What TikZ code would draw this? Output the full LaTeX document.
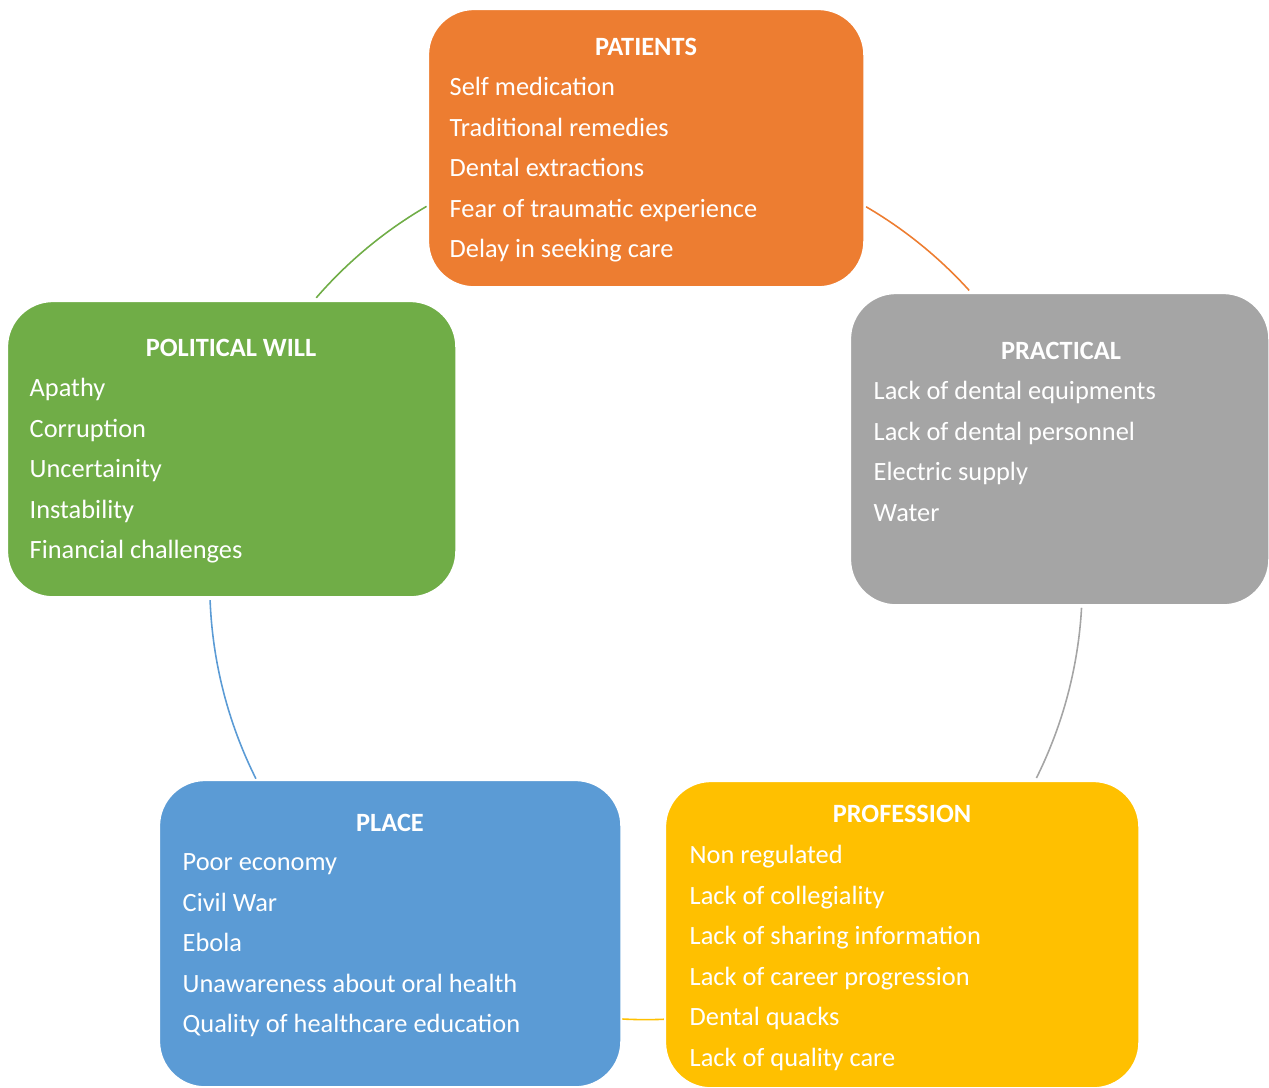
\documentclass[tikz,border=0pt]{standalone}
\usepackage{fontspec}
\setmainfont{Carlito}
\usepackage{tikz}
\usetikzlibrary{calc}
\definecolor{patcol}{HTML}{ED7D31}
\definecolor{polcol}{HTML}{70AD47}
\definecolor{pracol}{HTML}{A5A5A5}
\definecolor{placol}{HTML}{5B9BD5}
\definecolor{procol}{HTML}{FFC000}
\tikzset{
  box/.style={draw=white, line width=0.6pt, rounded corners=4.6mm, anchor=north west, inner sep=0pt},
  head/.style={text=white, anchor=base, inner sep=0pt, font=\fontsize{7.5}{9}\selectfont\bfseries},
  item/.style={text=white, anchor=base west, inner sep=0pt, font=\fontsize{7.5}{9}\selectfont},
  ring/.style={line width=0.45pt},
}

\begin{document}
\begin{tikzpicture}[x=0.01cm, y=-0.01cm]
\useasboundingbox (0,0) rectangle (1269,1087);
\coordinate (ctr) at (646,583.4);
%\draw [red] (ctr) circle (4.36cm);
\coordinate (a1) at ($(ctr)+(139.1:4.36cm)$);
\coordinate (a2) at ($(ctr)+(59.7:4.36cm)$);
\coordinate (a3) at ($(ctr)+(-3.2:4.36cm)$);
\coordinate (a4) at ($(ctr)+(-87.6:4.36cm)$);
\coordinate (a5) at ($(ctr)+(206.6:4.36cm)$);
\draw [ring, polcol] (a1) arc [start angle=139.1, end angle=120.2, radius=4.36cm];
\draw [ring, patcol] (a2) arc [start angle=59.7, end angle=42.2, radius=4.36cm];
\draw [ring, pracol] (a3) arc [start angle=-3.2, end angle=-26.5, radius=4.36cm];
\draw [ring, procol] (a4) arc [start angle=-87.6, end angle=-93.2, radius=4.36cm];
\draw [ring, placol] (a5) arc [start angle=206.6, end angle=182.2, radius=4.36cm];

\node [box, fill=patcol, minimum width=4.36cm, minimum height=2.78cm] (pat) at (427,8) {};
\node [box, fill=polcol, minimum width=4.49cm, minimum height=2.96cm] (pol) at (6,300) {};
\node [box, fill=pracol, minimum width=4.19cm, minimum height=3.12cm] (pra) at (849,292) {};
\node [box, fill=placol, minimum width=4.62cm, minimum height=3.07cm] (pla) at (158,779) {};
\node [box, fill=procol, minimum width=4.74cm, minimum height=3.07cm] (pro) at (664,780) {};

\node [head] (patT) at (646,55) {PATIENTS};
\node [item] (pat1) at (449,95.5) {Self medication};
\node [item] (pat2) at (449,136) {Traditional remedies};
\node [item] (pat3) at (449,176.5) {Dental extractions};
\node [item] (pat4) at (449,217) {Fear of traumatic experience};
\node [item] (pat5) at (449,257.5) {Delay in seeking care};

\node [head] (polT) at (231,356) {POLITICAL WILL};
\node [item] (pol1) at (29,396.5) {Apathy};
\node [item] (pol2) at (29,437) {Corruption};
\node [item] (pol3) at (29,477.5) {Uncertainity};
\node [item] (pol4) at (29,518) {Instability};
\node [item] (pol5) at (29,558.5) {Financial challenges};

\node [head] (praT) at (1061,359) {PRACTICAL};
\node [item] (pra1) at (873,399.5) {Lack of dental equipments};
\node [item] (pra2) at (873,440) {Lack of dental personnel};
\node [item] (pra3) at (873,480.5) {Electric supply};
\node [item] (pra4) at (873,521) {Water};

\node [head] (plaT) at (390,831) {PLACE};
\node [item] (pla1) at (182,870.5) {Poor economy};
\node [item] (pla2) at (182,911) {Civil War};
\node [item] (pla3) at (182,951.5) {Ebola};
\node [item] (pla4) at (182,992) {Unawareness about oral health};
\node [item] (pla5) at (182,1032.5) {Quality of healthcare education};

\node [head] (proT) at (902,822) {PROFESSION};
\node [item] (pro1) at (689,863.5) {Non regulated};
\node [item] (pro2) at (689,904) {Lack of collegiality};
\node [item] (pro3) at (689,944.5) {Lack of sharing information};
\node [item] (pro4) at (689,985) {Lack of career progression};
\node [item] (pro5) at (689,1025.5) {Dental quacks};
\node [item] (pro6) at (689,1066) {Lack of quality care};
\end{tikzpicture}
\end{document}
